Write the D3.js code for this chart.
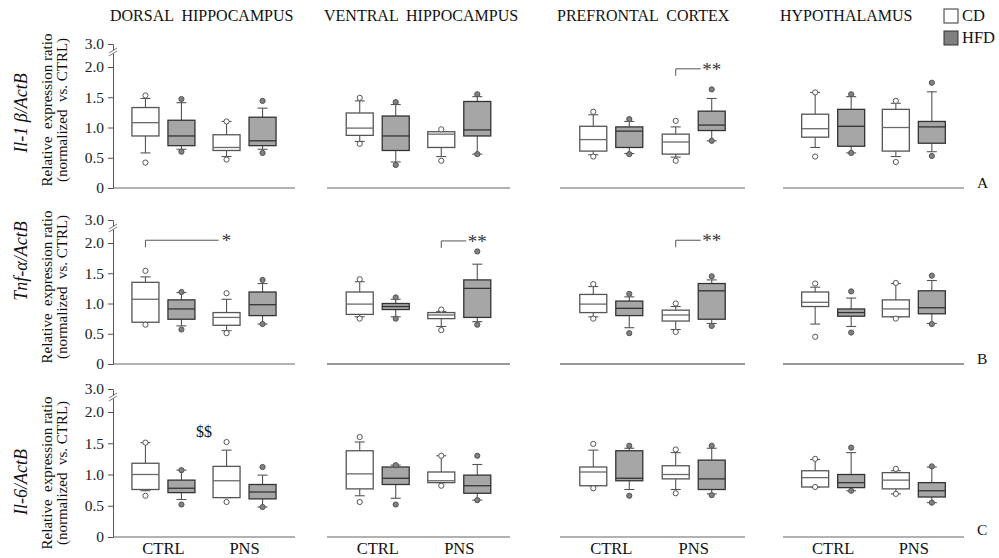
<!DOCTYPE html>
<html><head><meta charset="utf-8">
<script src="https://cdn.jsdelivr.net/npm/d3@7"></script>
<style>html,body{margin:0;padding:0;background:#fff;}svg{display:block;font-family:"Liberation Serif","Times New Roman",serif;}text{white-space:pre;}</style>
</head><body>
<svg id="c" width="999" height="558"></svg>
<script>
// ---- data ----
const regions = ["DORSAL  HIPPOCAMPUS", "VENTRAL  HIPPOCAMPUS", "PREFRONTAL  CORTEX", "HYPOTHALAMUS"];
const conditions = ["CTRL", "PNS"];
const diets = ["CD", "HFD"];
const geneLabels = ["Il-1 \u03b2/ActB", "Tnf-\u03b1/ActB", "Il-6/ActB"];
const panelLetters = ["A", "B", "C"];
const yTicks = [0, 0.5, 1.0, 1.5, 2.0, 3.0];
// box order per region: CD-CTRL, HFD-CTRL, CD-PNS, HFD-PNS ; [whiskerLow, q1, median, q3, whiskerHigh]
const il1bBoxes = [
  [[0.58,0.86,1.08,1.33,1.48],[0.64,0.70,0.86,1.12,1.41],[0.52,0.62,0.67,0.88,1.10],[0.64,0.70,0.78,1.17,1.32]],
  [[0.77,0.87,0.99,1.24,1.44],[0.43,0.62,0.86,1.19,1.38],[0.52,0.67,0.89,0.93,0.93],[0.56,0.86,0.96,1.43,1.51]],
  [[0.55,0.61,0.80,1.02,1.21],[0.57,0.67,0.94,1.01,1.10],[0.51,0.56,0.76,0.89,1.01],[0.78,0.95,1.04,1.27,1.48]],
  [[0.67,0.84,0.98,1.22,1.58],[0.58,0.69,1.02,1.30,1.51],[0.52,0.61,1.00,1.30,1.40],[0.60,0.74,1.01,1.10,1.59]]
];
const il1bDots = [
  [[1.53,0.42],[1.47,0.60],[1.10,0.47],[1.44,0.58]],
  [[1.49,0.73],[1.42,0.38],[0.97,0.45],[1.55,0.56]],
  [[1.26,0.52],[1.14,0.56],[1.11,0.45],[1.63,0.78]],
  [[1.58,0.52],[1.55,0.58],[1.44,0.43],[1.74,0.53]]
];
const tnfBoxes = [
  [[0.69,0.69,1.07,1.35,1.44],[0.63,0.74,0.91,1.06,1.18],[0.55,0.64,0.77,0.85,1.07],[0.66,0.80,0.98,1.19,1.33]],
  [[0.78,0.82,0.99,1.19,1.36],[0.78,0.90,0.95,1.00,1.07],[0.62,0.75,0.81,0.85,0.87],[0.70,0.77,1.25,1.39,1.65]],
  [[0.78,0.85,0.99,1.15,1.28],[0.60,0.80,0.92,1.04,1.11],[0.57,0.71,0.81,0.89,0.95],[0.67,0.74,1.21,1.33,1.39]],
  [[0.66,0.95,1.02,1.19,1.27],[0.62,0.79,0.85,0.91,1.09],[0.78,0.78,0.91,1.06,1.33],[0.67,0.83,0.93,1.21,1.38]]
];
const tnfDots = [
  [[1.54,0.65],[1.19,0.57],[1.17,0.51],[1.39,0.66]],
  [[1.40,0.75],[1.10,0.75],[0.90,0.56],[1.86,0.65]],
  [[1.32,0.75],[1.16,0.51],[1.00,0.53],[1.45,0.63]],
  [[1.33,0.45],[1.20,0.52],[1.34,0.75],[1.46,0.66]]
];
const il6Boxes = [
  [[0.74,0.76,1.00,1.18,1.51],[0.60,0.71,0.78,0.91,1.07],[0.63,0.63,0.90,1.13,1.39],[0.48,0.61,0.72,0.84,0.99]],
  [[0.66,0.77,1.01,1.38,1.52],[0.62,0.84,0.94,1.12,1.15],[0.87,0.87,0.90,1.04,1.30],[0.59,0.70,0.82,0.99,1.16]],
  [[0.82,0.82,1.04,1.12,1.39],[0.76,0.90,0.94,1.38,1.42],[0.76,0.93,1.00,1.14,1.35],[0.69,0.76,0.93,1.23,1.42]],
  [[0.80,0.80,0.95,1.06,1.24],[0.74,0.79,0.87,1.00,1.35],[0.69,0.77,0.91,1.03,1.06],[0.55,0.64,0.74,0.87,1.12]]
];
const il6Dots = [
  [[1.51,0.66],[1.07,0.52],[1.52,0.56],[1.12,0.48]],
  [[1.60,0.56],[1.15,0.52],[1.30,0.82],[1.30,0.59]],
  [[1.49,0.78],[1.46,0.66],[1.40,0.70],[1.46,0.67]],
  [[1.25,0.80],[1.43,0.74],[1.09,0.69],[1.13,0.55]]
];
const brackets = [
  {gene:0, region:2, from:["PNS","CD"], to:["PNS","HFD"], level:1.97, label:"**"},
  {gene:1, region:0, from:["CTRL","CD"], to:["PNS","CD"], level:2.12, label:"*"},
  {gene:1, region:1, from:["PNS","CD"], to:["PNS","HFD"], level:2.09, label:"**"},
  {gene:1, region:2, from:["PNS","CD"], to:["PNS","HFD"], level:2.12, label:"**"}
];
const textMarks = [{gene:2, region:0, value:1.68, label:"$$"}];

// ---- layout ----
const boxesByGene = [il1bBoxes, tnfBoxes, il6Boxes];
const dotsByGene = [il1bDots, tnfDots, il6Dots];
const rowGeom = [{y0:188, k:60.5, lab:113, rel:110}, {y0:364, k:60.5, lab:261, rel:287}, {y0:537, k:62.5, lab:482, rel:473}];
const colX = [113, 327, 560, 783];
const colW = [182, 183, 185, 181];
const svg = d3.select("#c");

const fill = {CD:"#ffffff", HFD:"#a6a6a6"};
const edge = {CD:"#555", HFD:"#333"};
const medC = {CD:"#6a6a6a", HFD:"#333"};
const dotFill = {CD:"#ffffff", HFD:"#808080"};

// titles
regions.forEach((r,i)=>{
  svg.append("text").attr("x", colX[i]-3).attr("y", 21).attr("font-size", 16).attr("fill","#111").text(r);
});
// legend
diets.forEach((d,i)=>{
  svg.append("rect").attr("x",944).attr("y",9+i*22).attr("width",14).attr("height",14)
    .attr("fill", d==="CD"?"#fff":"#808080").attr("stroke","#333").attr("stroke-width",1);
  svg.append("text").attr("x",962).attr("y",21+i*22).attr("font-size",16.5).attr("fill","#111").text(d);
});

rowGeom.forEach((g, gi)=>{
  const y = d3.scaleLinear().domain([0,2,3]).range([g.y0, g.y0-2*g.k, g.y0-2*g.k-23]);
  // y labels
  svg.append("text").attr("transform",`translate(21,${g.lab}) rotate(-90)`).attr("text-anchor","middle")
    .attr("dy","0.35em").attr("font-size",18).attr("font-style","italic").attr("fill","#111").text(geneLabels[gi]);
  svg.append("text").attr("transform",`translate(47,${g.rel}) rotate(-90)`).attr("text-anchor","middle")
    .attr("dy","0.35em").attr("font-size",15).attr("fill","#111").text("Relative  expression ratio");
  svg.append("text").attr("transform",`translate(62,${g.rel}) rotate(-90)`).attr("text-anchor","middle")
    .attr("dy","0.35em").attr("font-size",15).attr("fill","#111").text("(normalized  vs. CTRL)");
  // panel letter
  svg.append("text").attr("x",977).attr("y",g.y0+(gi===2?-2:0)).attr("font-size",15.5).attr("fill","#111").text(panelLetters[gi]);

  regions.forEach((r, ri)=>{
    const x0 = colX[ri], w = colW[ri];
    const xCond = d3.scalePoint().domain(conditions).range([0, w]).padding(0.622);
    const xDiet = d3.scaleBand().domain(diets).range([-36, 36]);
    const bw = 27;
    const cx = (c, d) => x0 + xCond(c) + xDiet(d) + xDiet.bandwidth()/2;
    const pg = svg.append("g");
    // baseline
    pg.append("line").attr("x1", x0).attr("x2", x0+w).attr("y1", g.y0).attr("y2", g.y0)
      .attr("stroke", gi===1 && ri>0 ? "#999" : "#666").attr("stroke-width", gi===1 && ri>0 ? 2 : 1.2);
    if (ri === 0) {
      const ax = pg.append("g").attr("transform",`translate(${x0},0)`)
        .call(d3.axisLeft(y).tickValues(yTicks).tickSize(5).tickSizeOuter(0).tickPadding(4)
          .tickFormat(v => v===0 ? "0" : d3.format(".1f")(v)));
      ax.selectAll("text").attr("font-size",15.5).attr("font-family","Liberation Serif, serif").attr("fill","#222");
      ax.selectAll("line,path").attr("stroke","#555");
      // axis break
      const yb = y(3) + 8;
      pg.append("rect").attr("x", x0-3).attr("y", yb-1.5).attr("width",6).attr("height",3).attr("fill","#fff");
      [-1.5, 1.5].forEach(o=>{
        pg.append("line").attr("x1",x0-4).attr("x2",x0+4).attr("y1",yb+o+2.5).attr("y2",yb+o-2.5)
          .attr("stroke","#555").attr("stroke-width",0.8);
      });
    }
    const boxes = boxesByGene[gi][ri];
    const dots = dotsByGene[gi][ri];
    const items = [];
    conditions.forEach((c, ci)=>diets.forEach((d, di)=>{
      items.push({c, d, s: boxes[ci*2+di], o: dots[ci*2+di]});
    }));
    items.forEach(it=>{
      const x = cx(it.c, it.d);
      const [lo, q1, md, q3, hi] = it.s;
      const wg = pg.append("g").attr("stroke","#555").attr("stroke-width",1.1);
      wg.append("line").attr("x1",x).attr("x2",x).attr("y1",y(q3)).attr("y2",y(hi));
      wg.append("line").attr("x1",x).attr("x2",x).attr("y1",y(q1)).attr("y2",y(lo));
      wg.append("line").attr("x1",x-5).attr("x2",x+5).attr("y1",y(hi)).attr("y2",y(hi));
      wg.append("line").attr("x1",x-5).attr("x2",x+5).attr("y1",y(lo)).attr("y2",y(lo));
      pg.append("rect").attr("x",x-bw/2).attr("y",y(q3)).attr("width",bw).attr("height",Math.max(1,y(q1)-y(q3)))
        .attr("fill",fill[it.d]).attr("stroke",edge[it.d]).attr("stroke-width",1.3);
      pg.append("line").attr("x1",x-bw/2).attr("x2",x+bw/2).attr("y1",y(md)).attr("y2",y(md))
        .attr("stroke",medC[it.d]).attr("stroke-width",1.3);
      it.o.forEach(v=>{
        pg.append("circle").attr("cx",x).attr("cy",y(v)).attr("r",2.6)
          .attr("fill",dotFill[it.d]).attr("stroke","#555").attr("stroke-width",1);
      });
    });
    // x labels
    if (gi === 2) {
      conditions.forEach(c=>{
        pg.append("text").attr("x", x0+xCond(c)).attr("y", 554).attr("text-anchor","middle")
          .attr("font-size",16.5).attr("fill","#111").text(c);
      });
    }
    brackets.filter(b=>b.gene===gi && b.region===ri).forEach(b=>{
      const xa = cx(b.from[0], b.from[1]), xb = cx(b.to[0], b.to[1]);
      const yl = y(b.level);
      const endX = xb - (b.label.length>1 ? 11 : 8);
      pg.append("path").attr("d",`M${xa},${yl+7}V${yl}H${endX}`).attr("fill","none")
        .attr("stroke","#555").attr("stroke-width",1);
      pg.append("text").attr("x",xb).attr("y",yl+7).attr("text-anchor","middle").attr("font-size",19)
        .attr("fill","#333").text(b.label);
    });
    textMarks.filter(m=>m.gene===gi && m.region===ri).forEach(m=>{
      pg.append("text").attr("x", x0 + w/2).attr("y", y(m.value)+5).attr("text-anchor","middle")
        .attr("font-size",16).attr("fill","#111").text(m.label);
    });
  });
});
</script>
</body></html>
